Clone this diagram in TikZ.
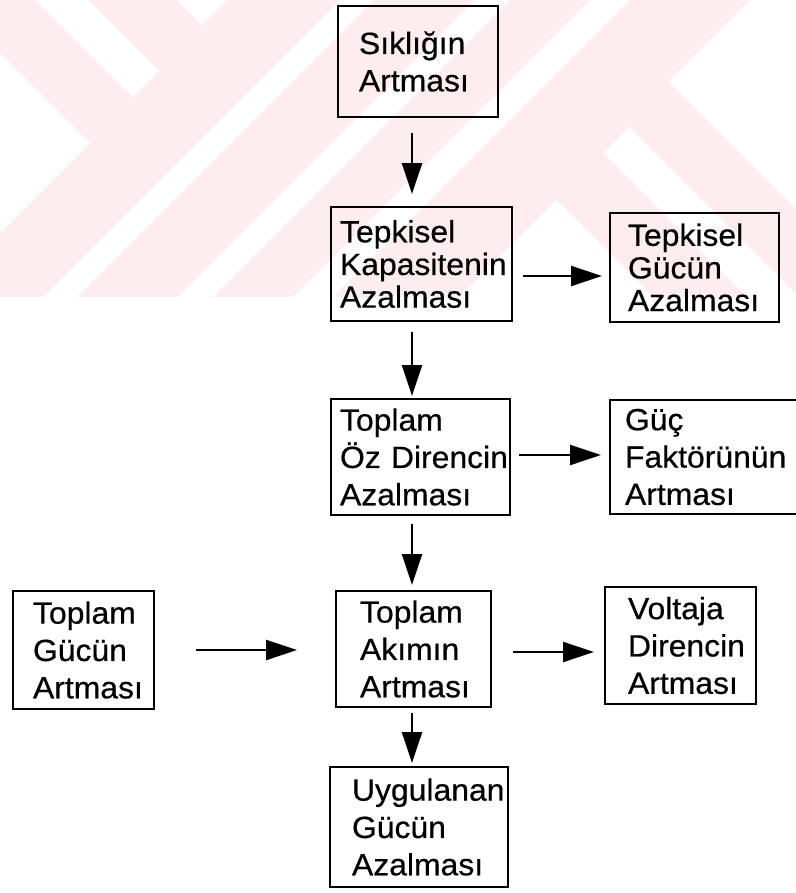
\documentclass[tikz,border=0pt]{standalone}
\usepackage{fontspec}
\setmainfont{Liberation Sans}[FakeStretch=1.04, FakeBold=0.5]
\usetikzlibrary{arrows.meta}
\definecolor{wmpink}{RGB}{253,236,240}

\begin{document}
\hyphenpenalty=10000
\exhyphenpenalty=10000
\lefthyphenmin=64
\begin{tikzpicture}[x=0.75pt,y=-0.75pt,
  box/.style={draw=black, line width=1.7pt, rectangle, inner sep=0pt,
    align=left, font=\fontsize{23}{28}\selectfont},
  tight/.style={font=\fontsize{23}{24.5}\selectfont},
  openbox/.style={box, draw=none},
  edge/.style={draw=black, line width=1.7pt},
  flow/.style={line width=1.5pt, -{Triangle[length=23pt,width=15pt]}},
  band/.style={fill=white, draw=none}
]
\useasboundingbox (0,0) rectangle (796,893);
\clip (0,0) rectangle (796,893);

% faint watermark in the upper part
\fill[wmpink] (0,0) rectangle (796,297);
\fill[band] (36,0) -- (88,0) -- (159,71) -- (133,97) -- cycle;
\fill[band] (177,0) -- (227,0) -- (202,25) -- cycle;
\fill[band] (0,53) -- (90,143) -- (0,233) -- cycle;
\fill[band] (340,0) -- (374,0) -- (77,297) -- (43,297) -- cycle;
\fill[band] (475,0) -- (510,0) -- (213,297) -- (178,297) -- cycle;
\fill[band] (590,0) -- (630,0) -- (333,297) -- (293,297) -- cycle;
\fill[band] (556,200) -- (653,297) -- (459,297) -- cycle;
\fill[band] (603,153) -- (629,127) -- (796,294) -- (796,297) -- (747,297) -- cycle;
\fill[band] (750,0) -- (796,0) -- (796,209) -- (668.5,81.5) -- cycle;

% boxes
\node[box, minimum width=120pt,    minimum height=83.25pt, text width=88.5pt]   (b1) at (418,61.5)  {Sıklığın\\Artması};
\node[box, tight, minimum width=135.75pt, minimum height=85.5pt,  text width=122.25pt] (b2) at (421.5,264) {Tepkisel\\Kapasitenin\\Azalması};
\node[box, tight, minimum width=126.75pt, minimum height=81.75pt, text width=99.75pt]  (b3) at (694.5,267.5) {Tepkisel\\Gücün\\Azalması};
\node[box, minimum width=134.25pt, minimum height=87pt,    text width=120.75pt] (b4) at (420.5,457) {Toplam\\Öz~Direncin\\Azalması};
% this box runs off the right edge, so only three of its sides show
\node[openbox, minimum width=180pt, minimum height=84pt, text width=159pt] (b5) at (731,457) {Güç\\Faktörünün\\Artması};
\draw[edge] (b5.north east) -- (b5.north west) -- (b5.south west) -- (b5.south east);
\node[box, minimum width=116.25pt, minimum height=87pt,    text width=80.25pt]  (b6) at (413.5,649) {Toplam\\Akımın\\Artması};
\node[box, minimum width=105.75pt, minimum height=88.5pt,  text width=75.75pt]  (b7) at (83.5,650)  {Toplam\\Gücün\\Artması};
\node[box, minimum width=113.25pt, minimum height=87.75pt, text width=78.75pt]  (b8) at (680.5,645.5) {Voltaja\\Direncin\\Artması};
\node[box, minimum width=133.5pt,  minimum height=90pt,    text width=100.5pt]  (b9) at (419,827)  {Uygulanan\\Gücün\\Azalması};

% guide coordinates for the connector lines
\coordinate (vx) at (412,0);
\coordinate (h1) at (0,276);
\coordinate (h2) at (0,455);
\coordinate (h3) at (0,650);
\coordinate (h4) at (0,652);

% connectors
\draw[flow, shorten <=11.25pt, shorten >=9pt]   (b1.south -| vx) -- (b2.north -| vx);
\draw[flow, shorten <=7.5pt,   shorten >=5.25pt] (b2.east |- h1)  -- (b3.west |- h1);
\draw[flow, shorten <=7.5pt,   shorten >=1.5pt]  (b2.south -| vx) -- (b4.north -| vx);
\draw[flow, shorten <=6pt,     shorten >=6.75pt] (b4.east |- h2)  -- (b5.west |- h2);
\draw[flow, shorten <=6pt,     shorten >=3.75pt] (b4.south -| vx) -- (b6.north -| vx);
\draw[flow, shorten <=30.75pt, shorten >=28.5pt] (b7.east |- h3)  -- (b6.west |- h3);
\draw[flow, shorten <=15.75pt, shorten >=7.5pt]  (b6.east |- h4)  -- (b8.west |- h4);
\draw[flow, shorten <=3.75pt,  shorten >=2.25pt] (b6.south -| vx) -- (b9.north -| vx);
\end{tikzpicture}
\end{document}
